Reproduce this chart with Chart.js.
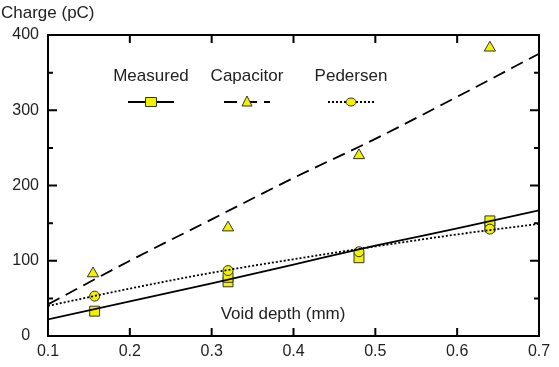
<!DOCTYPE html>
<html>
<head>
<meta charset="utf-8">
<script src="https://cdn.jsdelivr.net/npm/chart.js@4.4.1/dist/chart.umd.min.js"></script>
<style>
  html, body { margin: 0; padding: 0; background: #fff; }
  #wrap { width: 559px; height: 367px; }
</style>
</head>
<body>
<div id="wrap"><canvas id="chartCharge"></canvas></div>
<script>
// measured points and model curves
const measuredX = [0.157, 0.32, 0.32, 0.48, 0.64, 0.64];
const measuredY = [33, 72, 78, 104, 145, 153];
const capacitorX = [0.155, 0.32, 0.48, 0.64];
const capacitorY = [83, 144, 240, 383];
const pedersenX = [0.157, 0.32, 0.48, 0.64];
const pedersenY = [53, 87, 112, 142];

const curveX = [0.1, 0.2, 0.3, 0.4, 0.5, 0.6, 0.7];
const measuredFit = [22, 46, 70, 95, 120, 143, 167];
const capacitorFit = [42, 100, 155, 210, 262, 318, 375];
const pedersenFit = [40, 63, 84, 102, 119, 135, 149];

const seriesNames = ['Measured', 'Capacitor', 'Pedersen'];
const xTicks = [0.1, 0.2, 0.3, 0.4, 0.5, 0.6, 0.7];
const yTicks = [0, 100, 200, 300, 400];

const FONT = '"Liberation Sans", Arial, sans-serif';
const YELLOW = '#f2f200';
const EDGE = '#333333';

function pts(xs, ys) {
  return xs.map((x, i) => ({ x: x, y: ys[i] }));
}

// frame, inward ticks, axis titles and the legend
const decorations = {
  id: 'decorations',
  afterDraw(chart) {
    const c = chart.ctx;
    const a = chart.chartArea;
    const xs = chart.scales.x;
    const ys = chart.scales.y;
    c.save();
    c.strokeStyle = '#000';
    c.lineWidth = 2;
    c.strokeRect(a.left, a.top, a.right - a.left, a.bottom - a.top);

    c.beginPath();
    xTicks.forEach(v => {
      const px = xs.getPixelForValue(v);
      c.moveTo(px, a.bottom); c.lineTo(px, a.bottom - 8);
      c.moveTo(px, a.top); c.lineTo(px, a.top + 8);
    });
    for (let v = 0; v <= 400; v += 50) {
      const py = ys.getPixelForValue(v);
      const len = v % 100 === 0 ? 9 : 5;
      c.moveTo(a.left, py); c.lineTo(a.left + len, py);
      c.moveTo(a.right, py); c.lineTo(a.right - len, py);
    }
    c.stroke();

    c.fillStyle = '#222';
    c.font = '17px ' + FONT;
    c.textBaseline = 'middle';
    c.textAlign = 'left';
    c.fillText('Charge (pC)', 1, 13);
    c.textAlign = 'center';
    c.fillText('Void depth (mm)', 283, 314);

    // legend
    const items = [
      { x: 151, dash: [], marker: 'rect' },
      { x: 247, dash: [13, 7], marker: 'triangle' },
      { x: 351, dash: [2, 2], marker: 'circle' }
    ];
    items.forEach((it, i) => {
      c.fillStyle = '#222';
      c.font = '17px ' + FONT;
      c.textAlign = 'center';
      c.fillText(seriesNames[i], it.x, 76);
      c.strokeStyle = '#000';
      c.lineWidth = 1.8;
      c.setLineDash(it.dash);
      c.beginPath();
      c.moveTo(it.x - 23, 102); c.lineTo(it.x + 23, 102);
      c.stroke();
      c.setLineDash([]);
      c.fillStyle = YELLOW;
      c.strokeStyle = EDGE;
      c.lineWidth = 1;
      c.beginPath();
      if (it.marker === 'rect') {
        c.rect(it.x - 5.5, 97.5, 11, 9);
      } else if (it.marker === 'triangle') {
        c.moveTo(it.x, 96); c.lineTo(it.x + 5, 106); c.lineTo(it.x - 5, 106); c.closePath();
      } else {
        c.ellipse(it.x, 102, 5, 4, 0, 0, Math.PI * 2);
      }
      c.fill(); c.stroke();
    });
    c.restore();
  }
};

const markerStyle = {
  showLine: false,
  backgroundColor: YELLOW,
  borderColor: EDGE,
  pointBorderWidth: 1,
  pointHoverRadius: 5
};

const curveStyle = {
  showLine: true,
  pointRadius: 0,
  borderColor: '#000',
  borderWidth: 1.8,
  fill: false,
  cubicInterpolationMode: 'monotone'
};

new Chart(document.getElementById('chartCharge'), {
  type: 'scatter',
  data: {
    datasets: [
      Object.assign({ label: 'Measured fit', data: pts(curveX, measuredFit) }, curveStyle),
      Object.assign({ label: 'Capacitor fit', data: pts(curveX, capacitorFit), borderDash: [13, 7] }, curveStyle),
      Object.assign({ label: 'Pedersen fit', data: pts(curveX, pedersenFit), borderDash: [2, 2] }, curveStyle),
      Object.assign({ label: seriesNames[2], data: pts(pedersenX, pedersenY), pointStyle: 'circle', pointRadius: 5 }, markerStyle),
      Object.assign({ label: seriesNames[1], data: pts(capacitorX, capacitorY), pointStyle: 'triangle', pointRadius: 6.5 }, markerStyle),
      Object.assign({ label: seriesNames[0], data: pts(measuredX, measuredY), pointStyle: 'rect', pointRadius: 7 }, markerStyle)
    ]
  },
  options: {
    responsive: true,
    maintainAspectRatio: false,
    animation: false,
    layout: { padding: { top: 35, right: 20, left: 0, bottom: 0 } },
    plugins: {
      legend: { display: false },
      tooltip: { enabled: false }
    },
    scales: {
      x: {
        type: 'linear',
        min: 0.1,
        max: 0.7,
        grid: { display: false, drawTicks: false },
        border: { display: false },
        afterBuildTicks: s => { s.ticks = xTicks.map(v => ({ value: v })); },
        afterFit: s => { s.height = 31; },
        ticks: {
          padding: 6,
          color: '#222',
          font: { family: FONT, size: 16 },
          callback: v => Number(v).toFixed(1)
        }
      },
      y: {
        min: 0,
        max: 400,
        grid: { display: false, drawTicks: false },
        border: { display: false },
        afterBuildTicks: s => { s.ticks = yTicks.map(v => ({ value: v })); },
        afterFit: s => { s.width = 48; },
        ticks: {
          padding: 9,
          crossAlign: 'center',
          color: '#222',
          font: { family: FONT, size: 16 }
        }
      }
    }
  },
  plugins: [decorations]
});
</script>
</body>
</html>
